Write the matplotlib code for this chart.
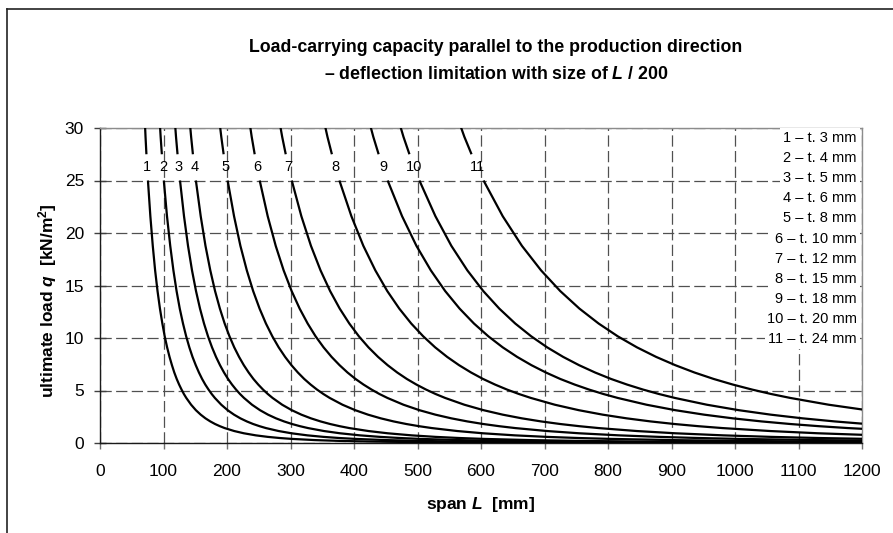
import numpy as np
import matplotlib
matplotlib.use("Agg")
import matplotlib.pyplot as plt
from matplotlib.lines import Line2D

# ---------------- data ----------------
curve_ids = [1, 2, 3, 4, 5, 6, 7, 8, 9, 10, 11]
thickness = [3, 4, 5, 6, 8, 10, 12, 15, 18, 20, 24]

# ultimate load levels [kN/m2] shared by all curves
q_levels = [34.29, 29.16, 27.5, 25.0, 21.60, 18.78, 16.44, 14.47, 12.80, 11.38,
            10.16, 9.11, 8.20, 7.41, 6.713, 6.10, 5.565, 5.09, 4.665, 4.29,
            3.645, 3.125, 2.699, 2.348, 2.055, 1.808, 1.600, 1.422, 1.139, 0.926,
            0.728, 0.583, 0.474, 0.391, 0.274, 0.200, 0.150, 0.116, 0.0729, 0.0488,
            0.0343, 0.0250, 0.0145, 0.0091, 0.0061]

# span [mm] at which each curve reaches the above load levels
span_t3 = [68.0, 71.7, 73.1, 75.5, 79.3, 83.1, 86.8, 90.6, 94.4, 98.2,
           101.9, 105.7, 109.5, 113.3, 117.0, 120.8, 124.6, 128.4, 132.1, 135.9,
           143.5, 151.0, 158.6, 166.1, 173.7, 181.2, 188.8, 196.3, 211.4, 226.5,
           245.4, 264.3, 283.1, 302.0, 339.8, 377.5, 415.3, 453.0, 528.5, 604.0,
           679.5, 755.0, 906.0, 1057.0, 1208.0]
span_t4 = [90.5, 95.5, 97.4, 100.5, 105.5, 110.6, 115.6, 120.6, 125.6, 130.7,
           135.7, 140.7, 145.7, 150.8, 155.8, 160.8, 165.8, 170.9, 175.9, 180.9,
           191.0, 201.0, 211.1, 221.1, 231.2, 241.2, 251.3, 261.3, 281.4, 301.5,
           326.6, 351.8, 376.9, 402.0, 452.3, 502.5, 552.8, 603.0, 703.5, 804.0,
           904.5, 1005.0, 1206.0]
span_t5 = [113.4, 119.7, 122.1, 126.0, 132.3, 138.6, 144.9, 151.2, 157.5, 163.8,
           170.1, 176.4, 182.7, 189.0, 195.3, 201.6, 207.9, 214.2, 220.5, 226.8,
           239.4, 252.0, 264.6, 277.2, 289.8, 302.4, 315.0, 327.6, 352.8, 378.0,
           409.5, 441.0, 472.5, 504.0, 567.0, 630.0, 693.0, 756.0, 882.0, 1008.0,
           1134.0, 1260.0]
span_t6 = [135.9, 143.5, 146.3, 151.0, 158.6, 166.1, 173.7, 181.2, 188.8, 196.3,
           203.9, 211.4, 219.0, 226.5, 234.1, 241.6, 249.2, 256.7, 264.3, 271.8,
           286.9, 302.0, 317.1, 332.2, 347.3, 362.4, 377.5, 392.6, 422.8, 453.0,
           490.8, 528.5, 566.3, 604.0, 679.5, 755.0, 830.5, 906.0, 1057.0, 1208.0]
span_t8 = [180.9, 191.0, 194.7, 201.0, 211.1, 221.1, 231.2, 241.2, 251.3, 261.3,
           271.4, 281.4, 291.5, 301.5, 311.6, 321.6, 331.7, 341.7, 351.8, 361.8,
           381.9, 402.0, 422.1, 442.2, 462.3, 482.4, 502.5, 522.6, 562.8, 603.0,
           653.3, 703.5, 753.8, 804.0, 904.5, 1005.0, 1105.5, 1206.0]
span_t10 = [226.4, 238.9, 243.6, 251.5, 264.1, 276.7, 289.2, 301.8, 314.4, 327.0,
            339.5, 352.1, 364.7, 377.3, 389.8, 402.4, 415.0, 427.6, 440.1, 452.7,
            477.9, 503.0, 528.2, 553.3, 578.5, 603.6, 628.8, 653.9, 704.2, 754.5,
            817.4, 880.3, 943.1, 1006.0, 1131.8, 1257.5]
span_t12 = [271.8, 286.9, 292.5, 302.0, 317.1, 332.2, 347.3, 362.4, 377.5, 392.6,
            407.7, 422.8, 437.9, 453.0, 468.1, 483.2, 498.3, 513.4, 528.5, 543.6,
            573.8, 604.0, 634.2, 664.4, 694.6, 724.8, 755.0, 785.2, 845.6, 906.0,
            981.5, 1057.0, 1132.5, 1208.0]
span_t15 = [339.3, 358.2, 365.2, 377.0, 395.9, 414.7, 433.6, 452.4, 471.3, 490.1,
            509.0, 527.8, 546.7, 565.5, 584.4, 603.2, 622.1, 640.9, 659.8, 678.6,
            716.3, 754.0, 791.7, 829.4, 867.1, 904.8, 942.5, 980.2, 1055.6, 1131.0,
            1225.3]
span_t18 = [407.7, 430.4, 438.8, 453.0, 475.7, 498.3, 521.0, 543.6, 566.3, 588.9,
            611.6, 634.2, 656.9, 679.5, 702.2, 724.8, 747.5, 770.1, 792.8, 815.4,
            860.7, 906.0, 951.3, 996.6, 1041.9, 1087.2, 1132.5, 1177.8, 1268.4]
span_t20 = [452.7, 477.9, 487.3, 503.0, 528.2, 553.3, 578.5, 603.6, 628.8, 653.9,
            679.1, 704.2, 729.4, 754.5, 779.7, 804.8, 830.0, 855.1, 880.3, 905.4,
            955.7, 1006.0, 1056.3, 1106.6, 1156.9, 1207.2]
span_t24 = [543.6, 573.8, 585.1, 604.0, 634.2, 664.4, 694.6, 724.8, 755.0, 785.2,
            815.4, 845.6, 875.8, 906.0, 936.2, 966.4, 996.6, 1026.8, 1057.0, 1087.2,
            1147.6, 1208.0]

spans = [span_t3, span_t4, span_t5, span_t6, span_t8, span_t10, span_t12,
         span_t15, span_t18, span_t20, span_t24]

x_ticks = [0, 100, 200, 300, 400, 500, 600, 700, 800, 900, 1000, 1100, 1200]
y_ticks = [0, 5, 10, 15, 20, 25, 30]

title_line1 = "Load-carrying capacity parallel to the production direction"
title_line2 = "\u2013 deflection limitation with size of $L$ / 200"

# ---------------- style ----------------
plt.rcParams['font.family'] = ['Liberation Sans', 'DejaVu Sans']
plt.rcParams['mathtext.fontset'] = 'custom'
plt.rcParams['mathtext.rm'] = 'Liberation Sans:bold'
plt.rcParams['mathtext.it'] = 'Liberation Sans:italic:bold'
plt.rcParams['mathtext.bf'] = 'Liberation Sans:bold'

W, H = 893, 533
fig = plt.figure(figsize=(W / 100, H / 100), dpi=100)
ax = fig.add_axes([100 / W, 90 / H, 762 / W, 315 / H])

gap_top, gap_bottom = 27.5, 25.0
for cid, sp in zip(curve_ids, spans):
    x = np.array(sp)
    y = np.array(q_levels[:len(sp)])
    up = y >= gap_top
    lo = y <= gap_bottom
    ax.plot(x[up], y[up], color='black', lw=1.6, solid_capstyle='butt', zorder=3)
    ax.plot(x[lo], y[lo], color='black', lw=1.6, solid_capstyle='butt',
            solid_joinstyle='round', zorder=3)
    lx = 0.5 * (x[y == gap_top][0] + x[y == gap_bottom][0])
    ax.text(lx, 0.5 * (gap_top + gap_bottom), str(cid), ha='center', va='center',
            fontsize=10.5, color='black', zorder=4)

# legend text block
for i, (cid, t) in enumerate(zip(curve_ids, thickness)):
    ax.text(1192, 29.05 - 1.915 * i, f"{cid} \u2013 t. {t} mm", ha='right', va='center',
            fontsize=10.5, color='black', zorder=5,
            bbox=dict(facecolor='white', edgecolor='none', boxstyle='square,pad=0.22'))

ax.set_xlim(0, 1200)
ax.set_ylim(0, 30)
ax.set_xticks(x_ticks)
ax.set_yticks(y_ticks)
ax.set_axisbelow(True)
ax.grid(True, color='#505050', linestyle=(0, (9, 3.5)), linewidth=0.9)

for s in ['top', 'right']:
    ax.spines[s].set_color('#8c8c8c')
    ax.spines[s].set_linewidth(1.0)
for s in ['left', 'bottom']:
    ax.spines[s].set_color('#1a1a1a')
    ax.spines[s].set_linewidth(1.0)

ax.tick_params(axis='y', direction='inout', length=9, width=1, color='#404040',
               labelsize=12.5, pad=7)
ax.tick_params(axis='x', direction='out', length=4, width=1, color='#707070',
               labelsize=12.5, pad=11)

# axis labels & title
fig.text(481 / W, 1 - 504 / H, "span $L$  [mm]", ha='center', va='center',
         fontsize=12.5, fontweight='bold')
fig.text(48 / W, 1 - 301 / H, "ultimate load $q$  [kN/m$^2$]", ha='center', va='center',
         rotation=90, fontsize=12.5, fontweight='bold')
fig.text(496 / W, 1 - 52 / H, title_line1, ha='center', va='baseline',
         fontsize=12.8, fontweight='bold')
fig.text(496 / W, 1 - 79 / H, title_line2, ha='center', va='baseline',
         fontsize=12.8, fontweight='bold')

# outer chart frame (top and left edges visible)
fig.add_artist(Line2D([7 / W, 7 / W], [0, 1 - 9 / H], transform=fig.transFigure,
                      color='#222222', lw=1.2))
fig.add_artist(Line2D([7 / W, 1], [1 - 9 / H, 1 - 9 / H], transform=fig.transFigure,
                      color='#222222', lw=1.2))

fig.savefig("out.png", dpi=100)
